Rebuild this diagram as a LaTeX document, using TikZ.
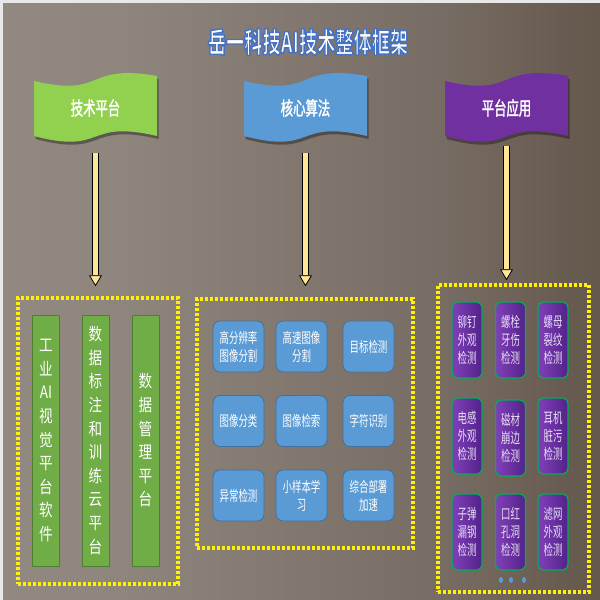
\documentclass[tikz,border=0pt]{standalone}
\usepackage{fontspec}
\usetikzlibrary{arrows.meta,positioning}
\newfontfamily\cjk[FakeStretch=0.65]{Noto Sans CJK SC}
\newfontfamily\cjkbar[FakeStretch=0.8]{Noto Sans CJK SC}
\newfontfamily\cjkhead[FakeStretch=0.65,FakeBold=1.5]{Noto Sans CJK SC}
\newfontfamily\cjktitle[FakeStretch=0.65]{Noto Sans CJK SC}
\newcommand{\outlined}[1]{\special{pdf:literal direct 0.267 0.447 0.769 RG 2 Tr 1.4 w}#1\special{pdf:literal direct 0 Tr}}

\definecolor{flaggreen}{HTML}{92D050}
\definecolor{flagblue}{HTML}{5B9BD5}
\definecolor{flagpurple}{HTML}{7030A0}
\definecolor{bargreen}{HTML}{70AD47}
\definecolor{barline}{HTML}{507E32}
\definecolor{algoline}{HTML}{41719C}
\definecolor{appgreen}{HTML}{00B050}
\definecolor{appleft}{HTML}{8040B8}
\definecolor{appright}{HTML}{52228A}
\definecolor{applabel}{HTML}{E8DDF5}
\definecolor{arrowyellow}{HTML}{FFE699}
\definecolor{bgA}{HTML}{9B938C}
\definecolor{bgB}{HTML}{8E857D}
\definecolor{bgC}{HTML}{776C63}
\definecolor{bgD}{HTML}{5A4C40}
\definecolor{bgE}{HTML}{3B2B1F}
\pgfdeclarehorizontalshading{bgshade}{100bp}{color(0bp)=(bgA); color(35bp)=(bgB); color(62bp)=(bgC); color(82bp)=(bgD); color(100bp)=(bgE)}

\tikzset{
  titletext/.style = {font=\cjktitle\bfseries\fontsize{28}{30}\selectfont, inner sep=0pt, text=white},
  flagtext/.style = {text=white, font=\cjkhead\fontsize{19}{22}\selectfont, minimum width=123pt, minimum height=62pt, inner sep=0pt},
  yard/.style = {draw=yellow, line width=3.5pt, dash pattern=on 3pt off 2pt, inner sep=0pt},
  platbar/.style = {draw=barline, fill=bargreen, line width=1pt, minimum width=27pt, minimum height=251pt, inner sep=0pt, text=white, align=center, font=\cjkbar\fontsize{17}{23.6}\selectfont},
  algobox/.style = {draw=algoline, fill=flagblue, line width=0.8pt, rounded corners=7pt, minimum size=51pt, inner sep=0pt, text=white, align=center, font=\cjk\fontsize{14.5}{18}\selectfont},
  appbox/.style = {draw=appgreen, line width=1.2pt, left color=appleft, right color=appright, rounded corners=6pt, minimum width=30pt, minimum height=76pt, inner sep=0pt, text=applabel, align=center, font=\cjk\fontsize{14.5}{18}\selectfont},
  fatarrow/.style = {draw=black, line width=0.8pt, double=arrowyellow, double distance=4.5pt, -{Triangle[width=13pt,length=11pt,fill=arrowyellow]}}
}

\begin{document}
\begin{tikzpicture}[x=1pt, y=-1pt]
  \useasboundingbox (0,0) rectangle (600,600);
  % background
  \fill[black!9] (0,0) rectangle (600,600);
  \fill[shading=bgshade] (3,3) rectangle (600,600);

  % title
  \node[titletext] (title) at (308,42) {\outlined{岳一科技AI技术整体框架}};

  % wave flags
  \foreach \nm/\fx/\fc/\tx in {techflag/34/flaggreen/技术平台, algoflag/244/flagblue/核心算法, appflag/445/flagpurple/平台应用} {
    \fill[\fc, shift={(\fx,81)}, preaction={fill=black, opacity=0.35, transform canvas={shift={(1.5pt,-3pt)}}}]
      (0,0) .. controls (72,17) and (50,-18) .. (123,-5) -- (123,55)
      .. controls (50,38) and (72,74) .. (0,55) -- cycle;
    \node[flagtext] (\nm) at (\fx+61.5,108) {\tx};
  }

  % dotted frames
  \node[yard, minimum width=160pt, minimum height=286pt] (techbox) at (98,441) {};
  \node[yard, minimum width=216pt, minimum height=249pt] (algobox) at (305,423.5) {};
  \node[yard, minimum width=151pt, minimum height=307pt] (appbox) at (513.5,438.5) {};

  % arrows
  \draw[fatarrow] ([yshift=-14pt]techflag.south) -- ([yshift=10pt]techflag.south |- techbox.north);
  \draw[fatarrow] ([yshift=-14pt]algoflag.south) -- ([yshift=11pt]algoflag.south |- algobox.north);
  \draw[fatarrow] ([yshift=-7pt]appflag.south) -- ([yshift=3pt]appflag.south |- appbox.north);

  % technical platform
  \node[platbar] (bar1) at (46,440.5) {工\\业\\AI\\视\\觉\\平\\台\\软\\件};
  \node[platbar] (bar2) at (95.5,440.5) {数\\据\\标\\注\\和\\训\\练\\云\\平\\台};
  \node[platbar] (bar3) at (145.5,440.5) {数\\据\\管\\理\\平\\台};

  % core algorithms
  \node[algobox] (a11) at (238.5,346.5) {高分辨率\\图像分割};
  \node[algobox] (a12) at (301.5,346.5) {高速图像\\分割};
  \node[algobox] (a13) at (368.5,346.5) {目标检测};
  \node[algobox] (a21) at (238.5,421) {图像分类};
  \node[algobox] (a22) at (301.5,421) {图像检索};
  \node[algobox] (a23) at (368.5,421) {字符识别};
  \node[algobox] (a31) at (238.5,495.5) {异常检测};
  \node[algobox] (a32) at (301.5,495.5) {小样本学\\习};
  \node[algobox] (a33) at (368.5,495.5) {综合部署\\加速};

  % applications
  \node[appbox] (p11) at (467,340) {铆钉\\外观\\检测};
  \node[appbox] (p12) at (510.5,340) {螺栓\\牙伤\\检测};
  \node[appbox] (p13) at (553,340) {螺母\\裂纹\\检测};
  \node[appbox] (p21) at (467,436) {电感\\外观\\检测};
  \node[appbox] (p22) at (510.5,438) {磁材\\崩边\\检测};
  \node[appbox] (p23) at (553,436) {耳机\\脏污\\检测};
  \node[appbox] (p31) at (467,532) {子弹\\漏钢\\检测};
  \node[appbox] (p32) at (510.5,532) {口红\\孔洞\\检测};
  \node[appbox] (p33) at (553,532) {滤网\\外观\\检测};
  \foreach \dx in {501,511,524}
    \fill[flagblue] (\dx,580) ellipse (2pt and 3pt);
\end{tikzpicture}
\end{document}
